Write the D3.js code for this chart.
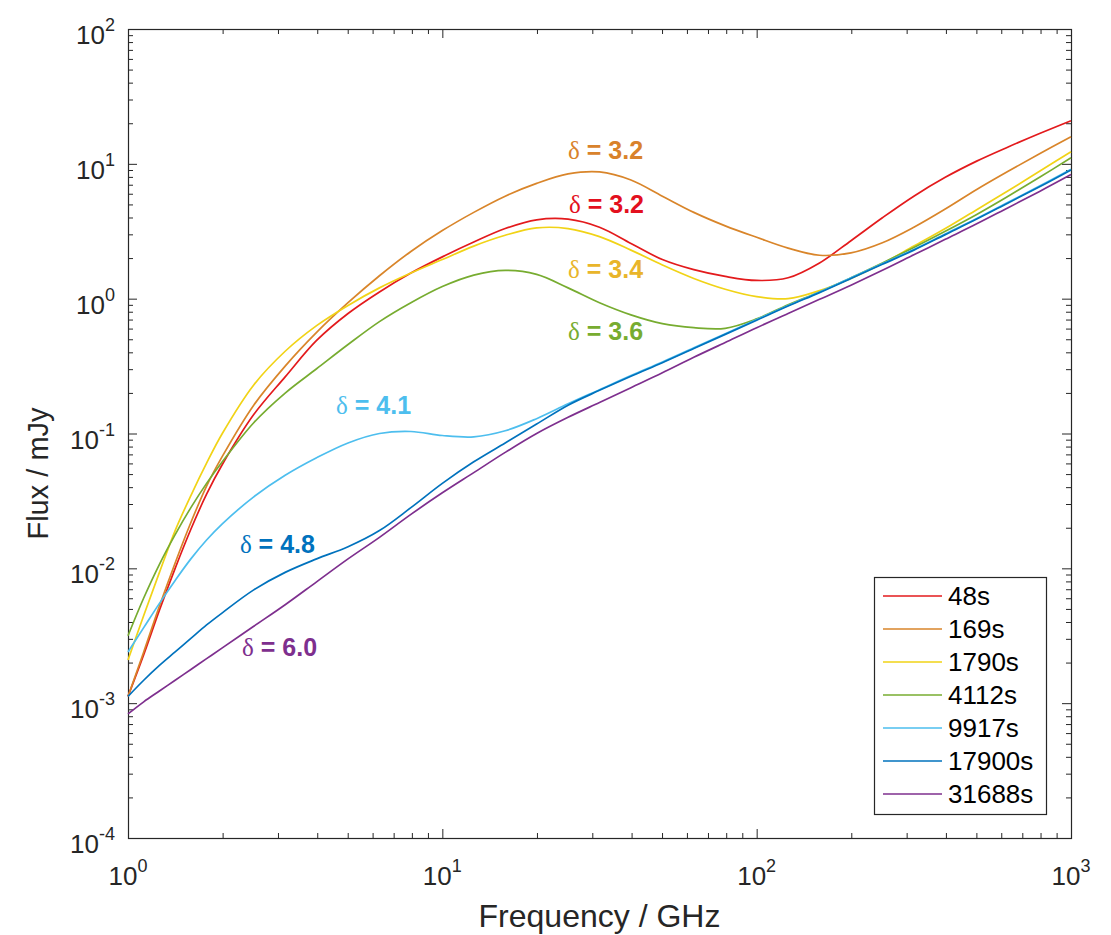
<!DOCTYPE html>
<html>
<head>
<meta charset="utf-8">
<script src="https://cdn.jsdelivr.net/npm/d3@7"></script>
<style>
  body { margin: 0; background: #fff; }
  svg { display: block; }
  text { font-family: "Liberation Sans", Arial, Helvetica, sans-serif; fill: #262626; }
</style>
</head>
<body>
<svg id="chart" width="1111" height="935"></svg>
<script>
// frequency grid, log10(GHz), shared by every curve
var logNu = [0, 0.05, 0.1, 0.15, 0.2, 0.25, 0.3, 0.4, 0.5, 0.6, 0.7, 0.8, 0.9, 1.0,
             1.1, 1.2, 1.3, 1.4, 1.5, 1.6, 1.7, 1.8, 1.9, 2.0,
             2.1, 2.2, 2.3, 2.4, 2.5, 2.6, 2.7, 2.8, 2.9, 3.0];

// flux, log10(mJy)
var flux48 = [-2.95, -2.64, -2.31, -2.00, -1.71, -1.45, -1.23, -0.86, -0.58, -0.31, -0.11, 0.05, 0.19, 0.31,
              0.42, 0.52, 0.585, 0.59, 0.53, 0.41, 0.29, 0.215, 0.165, 0.135,
              0.155, 0.265, 0.43, 0.60, 0.76, 0.90, 1.02, 1.125, 1.225, 1.32];
var flux169 = [-2.95, -2.62, -2.28, -1.96, -1.66, -1.39, -1.17, -0.79, -0.50, -0.25, -0.03, 0.17, 0.35, 0.505,
               0.64, 0.76, 0.855, 0.925, 0.94, 0.88, 0.76, 0.64, 0.54, 0.455,
               0.375, 0.322, 0.34, 0.415, 0.53, 0.665, 0.81, 0.945, 1.075, 1.20];
var flux1790 = [-2.68, -2.35, -2.03, -1.72, -1.46, -1.22, -1.00, -0.64, -0.39, -0.20, -0.05, 0.08, 0.19, 0.29,
                0.39, 0.47, 0.525, 0.52, 0.46, 0.36, 0.25, 0.15, 0.07, 0.015,
                0.0, 0.06, 0.15, 0.26, 0.39, 0.52, 0.66, 0.80, 0.945, 1.09];
var flux4112 = [-2.50, -2.22, -1.97, -1.75, -1.55, -1.37, -1.21, -0.92, -0.70, -0.52, -0.34, -0.17, -0.03, 0.09,
                0.175, 0.21, 0.18, 0.08, -0.03, -0.12, -0.185, -0.215, -0.22, -0.15,
                -0.045, 0.05, 0.155, 0.265, 0.38, 0.50, 0.625, 0.76, 0.90, 1.045];
var flux9917 = [-2.62, -2.44, -2.26, -2.09, -1.93, -1.79, -1.67, -1.47, -1.31, -1.18, -1.07, -1.00, -0.985, -1.015,
                -1.025, -0.98, -0.89, -0.78, -0.675, -0.57, -0.47, -0.365, -0.26, -0.155,
                -0.05, 0.05, 0.155, 0.26, 0.365, 0.48, 0.595, 0.715, 0.835, 0.96];
var flux17900 = [-2.95, -2.83, -2.72, -2.62, -2.52, -2.42, -2.33, -2.16, -2.03, -1.93, -1.84, -1.72, -1.55, -1.37,
                 -1.21, -1.07, -0.93, -0.79, -0.68, -0.575, -0.475, -0.37, -0.265, -0.16,
                 -0.055, 0.045, 0.15, 0.255, 0.36, 0.475, 0.59, 0.71, 0.83, 0.955];
var flux31688 = [-3.08, -2.99, -2.91, -2.83, -2.75, -2.67, -2.59, -2.43, -2.27, -2.10, -1.93, -1.77, -1.60, -1.44,
                 -1.29, -1.14, -1.00, -0.88, -0.77, -0.66, -0.55, -0.435, -0.325, -0.215,
                 -0.11, -0.005, 0.10, 0.21, 0.325, 0.44, 0.555, 0.675, 0.795, 0.92];

var seriesNames = ["48s", "169s", "1790s", "4112s", "9917s", "17900s", "31688s"];
var seriesFlux = [flux48, flux169, flux1790, flux4112, flux9917, flux17900, flux31688];
var lineColors = ["#e31a1c", "#d9852a", "#f1d316", "#77ac30", "#4dbeee", "#0072bd", "#7e2f8e"];

// delta annotations: value, left edge (log10 GHz), baseline (log10 mJy)
var deltaText = ["3.2", "3.2", "3.4", "3.6", "4.1", "4.8", "6.0"];
var deltaNu = [1.403, 1.400, 1.400, 1.400, 0.662, 0.356, 0.363];
var deltaFlux = [0.635, 1.036, 0.153, -0.307, -0.856, -1.887, -2.651];
var deltaColors = ["#e3101e", "#d9822b", "#e9b52a", "#77ac30", "#4dbeee", "#0072bd", "#7e2f8e"];

var xTicks = [1, 10, 100, 1000];
var xExp = ["0", "1", "2", "3"];
var yTicks = [1e-4, 1e-3, 1e-2, 1e-1, 1, 10, 100];
var yExp = ["-4", "-3", "-2", "-1", "0", "1", "2"];

var margin = {top: 29, left: 128},
    width = 943,
    height = 809;

var svg = d3.select("#chart");
var g = svg.append("g")
    .attr("transform", "translate(" + margin.left + "," + margin.top + ")");

var x = d3.scaleLog().domain([1, 1000]).range([0, width]);
var y = d3.scaleLog().domain([1e-4, 1e2]).range([height, 0]);

// ticks on all four sides, pointing inwards
function ticks(axis, values, size, transform) {
  g.append("g")
      .attr("transform", transform)
      .style("color", "#262626")
      .call(axis.tickValues(values).tickSize(-size).tickFormat(""))
      .call(function(a) { a.select(".domain").remove(); });
}
var xMinor = x.ticks().filter(function(d) { return xTicks.indexOf(d) < 0; });
var yMinor = y.ticks().filter(function(d) { return yTicks.indexOf(d) < 0; });

ticks(d3.axisBottom(x), xTicks, 9, "translate(0," + height + ")");
ticks(d3.axisBottom(x), xMinor, 5, "translate(0," + height + ")");
ticks(d3.axisTop(x), xTicks, 9, "translate(0,0)");
ticks(d3.axisTop(x), xMinor, 5, "translate(0,0)");
ticks(d3.axisLeft(y), yTicks, 9, "translate(0,0)");
ticks(d3.axisLeft(y), yMinor, 5, "translate(0,0)");
ticks(d3.axisRight(y), yTicks, 9, "translate(" + width + ",0)");
ticks(d3.axisRight(y), yMinor, 5, "translate(" + width + ",0)");

g.append("rect")
    .attr("x", 0.5).attr("y", 0.5)
    .attr("width", width).attr("height", height)
    .style("fill", "none")
    .style("stroke", "#262626")
    .style("stroke-width", 1.2);

// tick labels as 10 with a raised exponent
function powLabel(sel, exps) {
  sel.each(function(d, i) {
    var t = d3.select(this);
    t.append("tspan").text("10");
    t.append("tspan").attr("dy", -13).style("font-size", "18px").text(exps[i]);
  });
}

g.selectAll(".xlab").data(xTicks).join("text")
    .attr("class", "xlab")
    .attr("x", function(d) { return x(d); })
    .attr("y", height + 47)
    .style("text-anchor", "middle")
    .style("font-size", "26px")
    .call(powLabel, xExp);

g.selectAll(".ylab").data(yTicks).join("text")
    .attr("class", "ylab")
    .attr("x", -13)
    .attr("y", function(d) { return y(d) + 15; })
    .style("text-anchor", "end")
    .style("font-size", "26px")
    .call(powLabel, yExp);

g.append("text")
    .attr("x", width / 2)
    .attr("y", height + 89)
    .style("text-anchor", "middle")
    .style("font-size", "32px")
    .text("Frequency / GHz");

g.append("text")
    .attr("transform", "translate(-80," + (height / 2 + 40) + ") rotate(-90)")
    .style("text-anchor", "middle")
    .style("font-size", "29px")
    .text("Flux / mJy");

// spectra
var line = d3.line()
    .x(function(d, i) { return x(Math.pow(10, logNu[i])); })
    .y(function(d) { return y(Math.pow(10, d)); })
    .curve(d3.curveCatmullRom.alpha(0.5));

g.selectAll(".spec").data(seriesFlux).join("path")
    .attr("class", "spec")
    .attr("d", line)
    .style("fill", "none")
    .style("stroke", function(d, i) { return lineColors[i]; })
    .style("stroke-width", 1.7);

// delta labels
g.selectAll(".delta").data(deltaText).join("text")
    .attr("class", "delta")
    .attr("x", function(d, i) { return x(Math.pow(10, deltaNu[i])); })
    .attr("y", function(d, i) { return y(Math.pow(10, deltaFlux[i])); })
    .style("fill", function(d, i) { return deltaColors[i]; })
    .each(function(d) {
      var t = d3.select(this);
      t.append("tspan")
          .style("font-family", "'Liberation Serif', 'DejaVu Serif', serif")
          .style("font-size", "25px")
          .text("\u03b4");
      t.append("tspan")
          .style("font-weight", "bold")
          .style("font-size", "25px")
          .text(" = " + d);
    });

// legend
var legend = svg.append("g").attr("transform", "translate(874,577)");
legend.append("rect")
    .attr("x", 0.5).attr("y", 0.5)
    .attr("width", 172).attr("height", 237)
    .style("fill", "#fff")
    .style("stroke", "#262626")
    .style("stroke-width", 1.2);

var rows = legend.selectAll(".row").data(seriesNames).join("g")
    .attr("class", "row")
    .attr("transform", function(d, i) { return "translate(0," + (19 + 33 * i) + ")"; });
rows.append("line")
    .attr("x1", 9).attr("x2", 68)
    .style("stroke", function(d, i) { return lineColors[i]; })
    .style("stroke-width", 1.7);
rows.append("text")
    .attr("x", 74)
    .attr("dy", "0.36em")
    .style("font-size", "26px")
    .style("fill", "#000")
    .text(function(d) { return d; });
</script>
</body>
</html>
